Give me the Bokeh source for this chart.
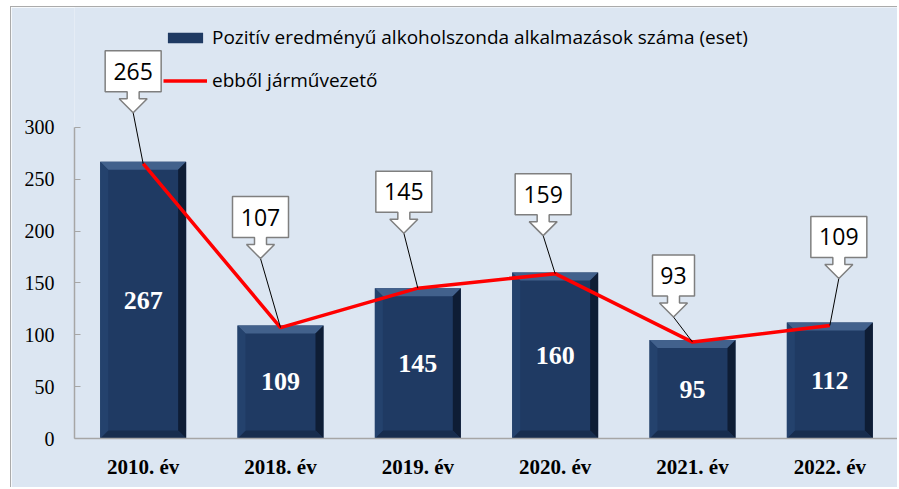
from bokeh.plotting import figure
from bokeh.layouts import column, row
from bokeh.models import (FactorRange, Range1d, FixedTicker, Legend, LegendItem,
                          ColumnDataSource, Spacer)
from bokeh.core.properties import value
from bokeh.embed import file_html
from bokeh.resources import INLINE

# ---------------- data ----------------
categories = ["2010. év", "2018. év", "2019. év", "2020. év", "2021. év", "2022. év"]
positive_tests = [267, 109, 145, 160, 95, 112]
drivers = [265, 107, 145, 159, 93, 109]
y_ticks = [0, 50, 100, 150, 200, 250, 300]
series_names = ["Pozitív eredményű alkoholszonda alkalmazások száma (eset)",
                "ebből járművezető"]

# callout arrow-tip offsets from each line point, in pixels (right, up)
callout_dx = [-10, -20, -14, -12, -19, 9]
callout_dy = [51, 69, 55, 38, 25, 47]

# ---------------- layout ----------------
W, H = 887, 481
ML, MB = 63, 50
FRAME_W = W - ML
FRAME_H = H - MB
Y_END = 415.7
PX_X = FRAME_W / len(categories)
PX_Y = FRAME_H / Y_END
BAR_W = 0.626
BG = "#DCE6F2"
SERIF = "Liberation Serif"
SANS = "Open Sans"

p = figure(width=W, height=H,
           x_range=FactorRange(*categories), y_range=Range1d(0, Y_END),
           output_backend="svg", toolbar_location=None,
           min_border_left=ML, min_border_right=0, min_border_top=0,
           min_border_bottom=MB)
p.background_fill_color = BG
p.border_fill_color = BG
p.outline_line_color = None
p.xgrid.visible = False
p.ygrid.visible = False
p.styles = {"border-top": "1px solid #ABABAB", "border-left": "1px solid #ABABAB"}

src = ColumnDataSource(dict(
    cat=categories, pos=positive_tests, drv=drivers,
    half=[v / 2 for v in positive_tests],
    lbl=[str(v) for v in positive_tests]))

# bars
bars = p.vbar(x="cat", top="pos", width=BAR_W, source=src,
              fill_color="#1F3A63", line_color=None)

# bevel decoration derived from bar values
bx = 8 / PX_X
by = 8 / PX_Y
bev = {"top": ([], []), "right": ([], []), "bottom": ([], []), "left": ([], [])}
for i, v in enumerate(positive_tests):
    xc = i + 0.5
    xl, xr = xc - BAR_W / 2, xc + BAR_W / 2
    bev["top"][0].append([xl, xr, xr - bx, xl + bx])
    bev["top"][1].append([v, v, v - by, v - by])
    bev["right"][0].append([xr, xr, xr - bx, xr - bx])
    bev["right"][1].append([v, 0, by, v - by])
    bev["bottom"][0].append([xl, xr, xr - bx, xl + bx])
    bev["bottom"][1].append([0, 0, by, by])
    bev["left"][0].append([xl, xl, xl + bx, xl + bx])
    bev["left"][1].append([v, 0, by, v - by])
bev_colors = {"top": "#42618C", "right": "#0E1D35", "bottom": "#172D4E", "left": "#24426D"}
for k, (xs, ys) in bev.items():
    p.patches(xs, ys, fill_color=bev_colors[k], line_color=None)

# bar value labels
p.text(x="cat", y="half", text="lbl", source=src, text_color="white",
       text_font=value(SERIF), text_font_style="bold", text_font_size="26px",
       text_align="center", text_baseline="middle")

# driver line
line = p.line(x="cat", y="drv", source=src, line_color="#FF0000", line_width=3.5)

# callouts
pt_x = [i + 0.5 for i in range(len(categories))]
tip_x = [x + dx / PX_X for x, dx in zip(pt_x, callout_dx)]
tip_y = [v + dy / PX_Y for v, dy in zip(drivers, callout_dy)]
p.segment(x0=pt_x, y0=drivers, x1=tip_x, y1=tip_y, line_color="black", line_width=1)

cxs, cys, txs, tys = [], [], [], []
for tx, ty, v in zip(tip_x, tip_y, drivers):
    w = 14 * (len(str(v)) + 1)
    shape = [(0, 0), (-14, 14), (-6, 14), (-6, 21), (-w / 2, 21), (-w / 2, 62),
             (w / 2, 62), (w / 2, 21), (6, 21), (6, 14), (14, 14)]
    cxs.append([tx + sx / PX_X for sx, sy in shape])
    cys.append([ty + sy / PX_Y for sx, sy in shape])
    txs.append(tx)
    tys.append(ty + 41.5 / PX_Y)
p.patches(cxs, cys, fill_color="white", line_color="#7F7F7F", line_width=1.5)
p.text(x=txs, y=tys, text=[str(v) for v in drivers], text_color="black",
       text_font=value(SANS), text_font_size="23px", text_align="center",
       text_baseline="middle")

# axes
yax = p.yaxis[0]
yax.ticker = FixedTicker(ticks=y_ticks)
yax.bounds = (0, 300)
yax.major_tick_in = 6
yax.major_tick_out = 0
yax.minor_tick_line_color = None
yax.axis_line_color = "#A6A6A6"
yax.axis_line_width = 1.5
yax.major_tick_line_color = "#A6A6A6"
yax.major_label_text_font = SERIF
yax.major_label_text_font_size = "20px"
yax.major_label_text_color = "black"
yax.major_label_standoff = 20

xax = p.xaxis[0]
xax.axis_line_color = "#A6A6A6"
xax.axis_line_width = 1.5
xax.major_tick_line_color = None
xax.minor_tick_line_color = None
xax.major_label_text_font = SERIF
xax.major_label_text_font_style = "bold"
xax.major_label_text_font_size = "21px"
xax.major_label_text_color = "black"
xax.major_label_standoff = 10

legend = Legend(items=[LegendItem(label=series_names[0], renderers=[bars]),
                       LegendItem(label=series_names[1], renderers=[line])],
                location=(89, 345), orientation="vertical",
                glyph_width=44, glyph_height=13, label_standoff=5, spacing=17,
                padding=0, margin=0, border_line_color=None,
                background_fill_alpha=0, label_text_font=SANS,
                label_text_font_size="19px", label_text_color="black")
p.add_layout(legend)

layout = column(Spacer(height=6), row(Spacer(width=10), p))
open("out.html", "w").write(file_html(layout, INLINE))
